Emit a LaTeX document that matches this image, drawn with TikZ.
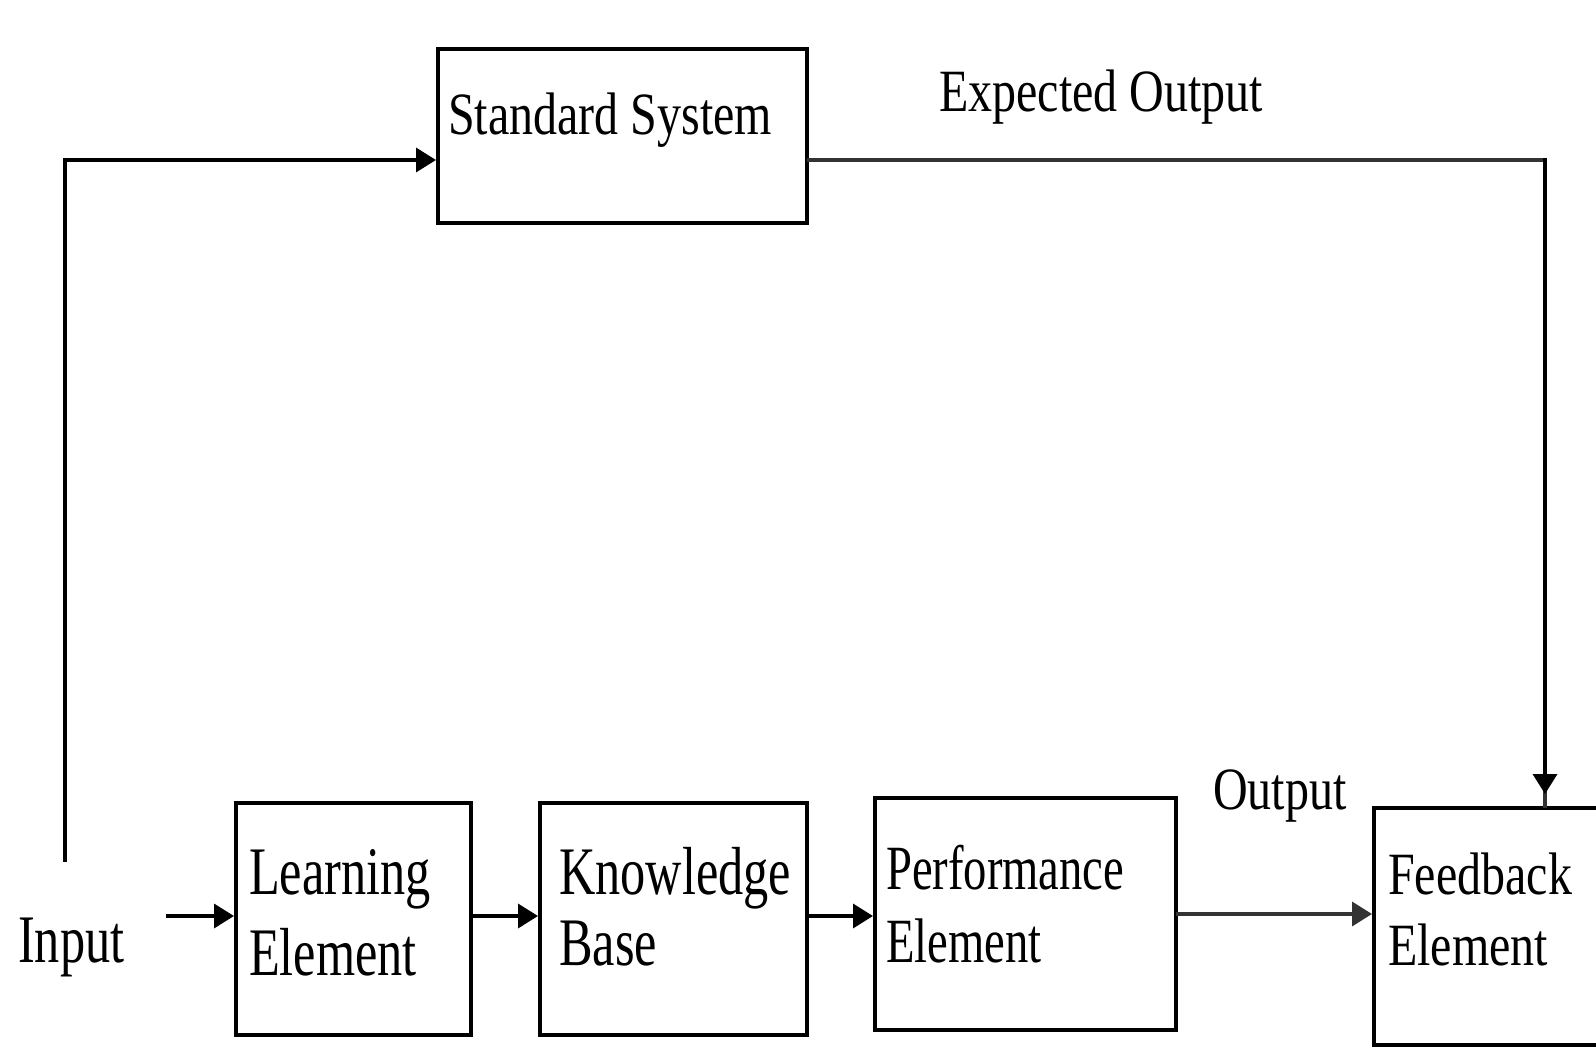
\documentclass[tikz,border=0pt]{standalone}
\usepackage{fontspec}
\setmainfont{Liberation Serif}
\newfontfamily\narrowA[FakeStretch=0.74]{Liberation Serif}
\newfontfamily\narrowB[FakeStretch=0.80]{Liberation Serif}
\usetikzlibrary{arrows.meta,calc}
\begin{document}
\begin{tikzpicture}[x=1pt,y=-1pt,
  box/.style={draw=black,line width=4pt,fill=white,inner sep=0pt,anchor=north west},
  lblbig/.style={inner sep=0pt,anchor=base west,font=\narrowA\fontsize{68}{68}\selectfont},
  lblmid/.style={inner sep=0pt,anchor=base west,font=\narrowA\fontsize{63}{63}\selectfont},
  lblwide/.style={inner sep=0pt,anchor=base west,font=\narrowB\fontsize{60}{60}\selectfont},
  wire/.style={line width=3.5pt,line cap=rect},
  arr/.style={wire,-{Triangle[length=20pt,width=24pt]}},
]
\useasboundingbox[fill=white] (0,0) rectangle (1596,1048);

% blocks
\node[box,minimum width=369pt,minimum height=174pt] (std) at (436,47) {};
\node[box,minimum width=235pt,minimum height=232pt] (le) at (234,801) {};
\node[box,minimum width=267pt,minimum height=232pt] (kb) at (538,801) {};
\node[box,minimum width=301pt,minimum height=232pt] (pe) at (873,796) {};
\node[box,minimum width=240pt,minimum height=237pt] (fb) at (1372,806) {};

% texts
\node[lblwide] (tstd) at (448,135) {Standard System};
\node[lblwide] (texp) at (939,112) {Expected Output};
\node[lblbig]  (tin)  at (18,962) {Input};
\node[lblbig]  (tle1) at (249,894) {Learning};
\node[lblbig]  (tle2) at (249,975) {Element};
\node[lblbig]  (tkb1) at (559,894) {Knowledge};
\node[lblbig]  (tkb2) at (559,965) {Base};
\node[lblmid]  (tpe1) at (886,889) {Performance};
\node[lblmid]  (tpe2) at (886,962) {Element};
\node[lblwide] (tfb1) at (1388,894) {Feedback};
\node[lblwide] (tfb2) at (1388,965) {Element};
\node[lblwide] (tout) at (1213,809) {Output};

% connector helpers
\coordinate (inTop) at (65,860);
\coordinate (inCorner) at (65,160);
\coordinate (fbCorner) at (1545,160);
\coordinate (inStart) at (168,916);
\coordinate (rowA) at (0,916);
\coordinate (rowB) at (0,914);

% input to standard system
\draw[arr] (inTop) -- (inCorner) -- (inCorner -| std.west);
% expected output to feedback
\draw[wire,black!80,line width=4pt] (std.east |- fbCorner) -- (fbCorner) -- (fbCorner |- fb.north);
\draw[arr] (fbCorner) -- ($(fbCorner |- fb.north)+(0,-12)$);
% main chain
\draw[arr] (inStart) -- (inStart -| le.west);
\draw[arr] (le.east |- rowA) -- (kb.west |- rowA);
\draw[arr] (kb.east |- rowA) -- (pe.west |- rowA);
\draw[arr,black!80] (pe.east |- rowB) -- (fb.west |- rowB);
\end{tikzpicture}
\end{document}
